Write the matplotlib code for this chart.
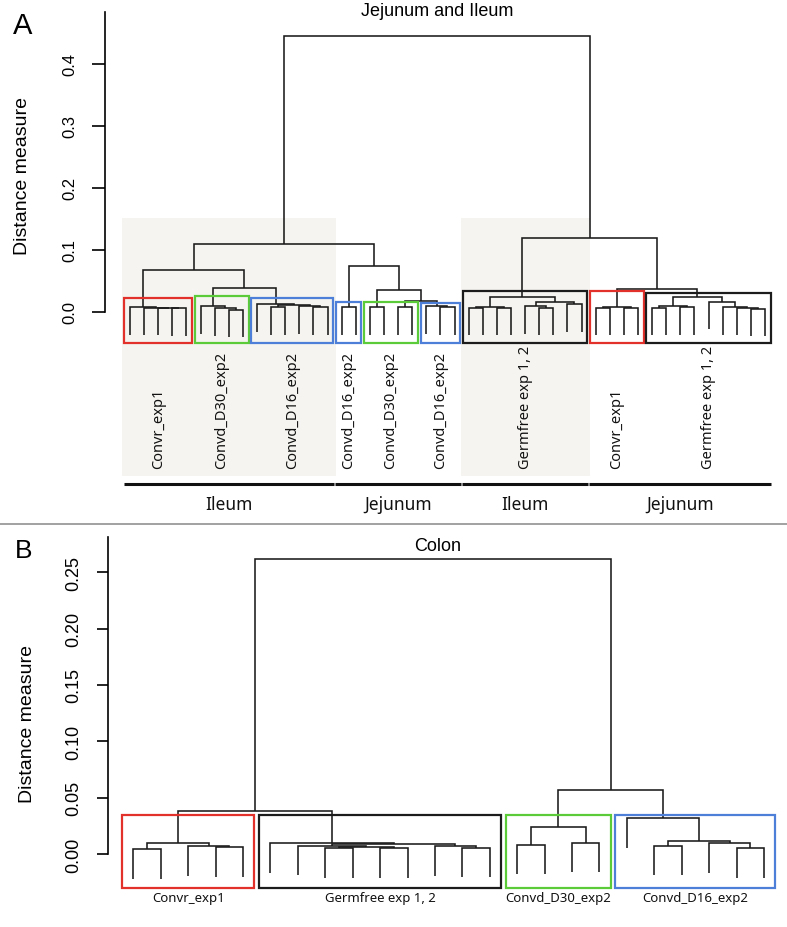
import matplotlib
matplotlib.use("Agg")
import matplotlib.pyplot as plt
from matplotlib.patches import Rectangle
from matplotlib.lines import Line2D

# ---------------- data ----------------
# Dendrogram merges as nested (left, right, height); integers = leaf positions.
# Panel A: Jejunum and Ileum (46 samples)
A_convr_ileum = (0, (1, (2, (3, 4, 0.0060), 0.0067), 0.0071), 0.0076)
A_d30_ileum = (5, (6, (7, 8, 0.0037), 0.0064), 0.0092)
A_d16_ileum = (9, ((10, 11, 0.0080), (12, (13, 14, 0.0075), 0.0095), 0.0110), 0.0125)
A_conv_ileum = (A_convr_ileum, (A_d30_ileum, A_d16_ileum, 0.0380), 0.0676)
A_conv_jejunum = ((15, 16, 0.0075),
                  ((17, 18, 0.0080), ((19, 20, 0.0075), (21, (22, 23, 0.0075), 0.0092), 0.0180), 0.0354),
                  0.0746)
A_gf_ileum = (((24, 25, 0.0070), (26, 27, 0.0068), 0.0075),
              ((28, (29, 30, 0.0070), 0.0092), (31, 32, 0.0129), 0.0156), 0.0236)
A_convr_jejunum = ((33, 34, 0.0070), (35, 36, 0.0068), 0.0075)
A_gf_jejunum = (((37, 38, 0.0070), (39, 40, 0.0075), 0.0102),
                (41, (42, (43, (44, 45, 0.0055), 0.0070), 0.0075), 0.0166), 0.0236)
A_tree = ((A_conv_ileum, A_conv_jejunum, 0.1095),
          (A_gf_ileum, (A_convr_jejunum, A_gf_jejunum, 0.0370), 0.1190), 0.4445)

A_box_leaves = [(0, 4), (5, 8), (9, 14), (15, 16), (17, 20), (21, 23), (24, 32), (33, 36), (37, 45)]
A_box_colors = ["red", "green", "blue", "blue", "green", "blue", "black", "red", "black"]
A_box_tops = [0.0225, 0.0253, 0.0225, 0.0166, 0.0156, 0.0140, 0.0333, 0.0333, 0.0306]
A_box_labels = ["Convr_exp1", "Convd_D30_exp2", "Convd_D16_exp2", "Convd_D16_exp2",
                "Convd_D30_exp2", "Convd_D16_exp2", "Germfree exp 1, 2", "Convr_exp1",
                "Germfree exp 1, 2"]
A_tissue_leaves = [(0, 14), (15, 23), (24, 32), (33, 45)]
A_tissue_labels = ["Ileum", "Jejunum", "Ileum", "Jejunum"]
A_shaded = [(0, 14), (24, 32)]
A_yticks = [0.0, 0.1, 0.2, 0.3, 0.4]

# Panel B: Colon (24 samples)
B_convr = ((0, 1, 0.0044), (2, (3, 4, 0.0059), 0.0068), 0.0095)
B_gf = (5, ((6, ((7, 8, 0.0050), (9, 10, 0.0052), 0.0065), 0.0075),
            (11, (12, 13, 0.0055), 0.0070), 0.0085), 0.0097)
B_d30 = ((14, 15, 0.0083), (16, 17, 0.0098), 0.0237)
B_d16 = (18, ((19, 20, 0.0074), (21, (22, 23, 0.0053), 0.0095), 0.0118), 0.0316)
B_tree = ((B_convr, B_gf, 0.0384), (B_d30, B_d16, 0.0568), 0.2618)

B_box_leaves = [(0, 4), (5, 13), (14, 17), (18, 23)]
B_box_colors = ["red", "black", "green", "blue"]
B_box_labels = ["Convr_exp1", "Germfree exp 1, 2", "Convd_D30_exp2", "Convd_D16_exp2"]
B_yticks = [0.00, 0.05, 0.10, 0.15, 0.20, 0.25]

# ---------------- style ----------------
COL = {"red": "#e2302b", "green": "#5ccb3a", "blue": "#4d7ed8", "black": "#1c1c1c"}
SHADE = "#f5f4f0"
AX_FONT = "Liberation Sans"
LAB_FONT = ["Noto Sans", "DejaVu Sans"]
LINE_KW = dict(color="#1a1a1a", lw=1.15, solid_joinstyle="miter", solid_capstyle="butt")

W, H = 787, 928
fig = plt.figure(figsize=(W / 100, H / 100), dpi=100)


def px_axes(left, right, top, bottom):
    return fig.add_axes([left / W, 1 - bottom / H, (right - left) / W, (bottom - top) / H])


def draw_tree(ax, node, hang):
    if isinstance(node, int):
        return float(node), None
    left, right, h = node
    xl, hl = draw_tree(ax, left, hang)
    xr, hr = draw_tree(ax, right, hang)
    bl = h - hang if hl is None else hl
    br = h - hang if hr is None else hr
    ax.plot([xl, xl, xr, xr], [bl, h, h, br], zorder=3, **LINE_KW)
    return (xl + xr) / 2, h


def style_axis(ax, ticks, fmt, top, fs, tick_len, pad):
    for s in ("top", "right", "bottom"):
        ax.spines[s].set_visible(False)
    ax.spines["left"].set_bounds(0, top)
    ax.spines["left"].set_linewidth(1.2)
    ax.set_xticks([])
    ax.set_yticks(ticks)
    ax.set_yticklabels([fmt.format(t) for t in ticks], rotation=90, va="center",
                       fontfamily=AX_FONT, fontsize=fs)
    ax.tick_params(axis="y", length=tick_len, width=1.2, pad=pad)
    ax.patch.set_visible(False)


# ---------------- panel A ----------------
axA = px_axes(105, 780, 13, 337.8)
axA.set_xlim(-1.772, (780 - 130) / 14.11)
axA.set_ylim(-0.04, 0.483)
style_axis(axA, A_yticks, "{:.1f}", 0.483, 12, 9.4, 10.2)

for (a, b) in A_shaded:
    axA.add_patch(Rectangle((a - 0.55, -0.264), b - a + 1.15, 0.264 + 0.151,
                            facecolor=SHADE, edgecolor="none", zorder=0, clip_on=False))

draw_tree(axA, A_tree, 0.1 * A_tree[2])

for (a, b), c, t, lab in zip(A_box_leaves, A_box_colors, A_box_tops, A_box_labels):
    axA.add_patch(Rectangle((a - 0.4, -0.050), b - a + 0.8, t + 0.050, fill=False,
                            edgecolor=COL[c], lw=1.6, zorder=4, clip_on=False))
    axA.text((a + b) / 2, (313 - 469) / 621, lab, rotation=90, ha="center", va="bottom",
             fontfamily=LAB_FONT, fontsize=10.5, color="#111111")

for (a, b), lab in zip(A_tissue_leaves, A_tissue_labels):
    axA.plot([a - 0.45, b + 0.45], [-0.277, -0.277], color="#111111", lw=2.2,
             solid_capstyle="butt", clip_on=False)
    axA.text((a + b) / 2, -0.309, lab, ha="center", va="center",
             fontfamily=LAB_FONT, fontsize=12.5, color="#111111")

fig.text(437 / W, 1 - 12 / H, "Jejunum and Ileum", ha="center", va="center",
         fontfamily=AX_FONT, fontsize=13)
fig.text(23 / W, 1 - 176.5 / H, "Distance measure", rotation=90, ha="center", va="center",
         fontfamily=AX_FONT, fontsize=14)
fig.text(23 / W, 1 - 26 / H, "A", ha="center", va="center", fontfamily=AX_FONT, fontsize=21)

# separator
fig.add_artist(Line2D([0, 1], [1 - 524.5 / H, 1 - 524.5 / H], color="#9a9a9a", lw=1.3))

# ---------------- panel B ----------------
axB = px_axes(108.3, 780, 538.4, 888.8)
axB.set_xlim((108.3 - 133.3) / 27.42, (780 - 133.3) / 27.42)
axB.set_ylim(-0.030, 0.281)
style_axis(axB, B_yticks, "{:.2f}", 0.281, 13, 8.1, 10.5)

draw_tree(axB, B_tree, 0.1 * B_tree[2])

for (a, b), c, lab in zip(B_box_leaves, B_box_colors, B_box_labels):
    axB.add_patch(Rectangle((a - 0.42, -0.030), b - a + 0.84, 0.0349 + 0.030, fill=False,
                            edgecolor=COL[c], lw=1.6, zorder=4, clip_on=False))
    axB.text((a + b) / 2, -0.0385, lab, ha="center", va="center",
             fontfamily=LAB_FONT, fontsize=9.5, color="#111111")

fig.text(438 / W, 1 - 546.5 / H, "Colon", ha="center", va="center",
         fontfamily=AX_FONT, fontsize=13)
fig.text(27 / W, 1 - 724 / H, "Distance measure", rotation=90, ha="center", va="center",
         fontfamily=AX_FONT, fontsize=14)
fig.text(24 / W, 1 - 551 / H, "B", ha="center", va="center", fontfamily=AX_FONT, fontsize=19)

fig.savefig("out.png", dpi=100, facecolor="white")
